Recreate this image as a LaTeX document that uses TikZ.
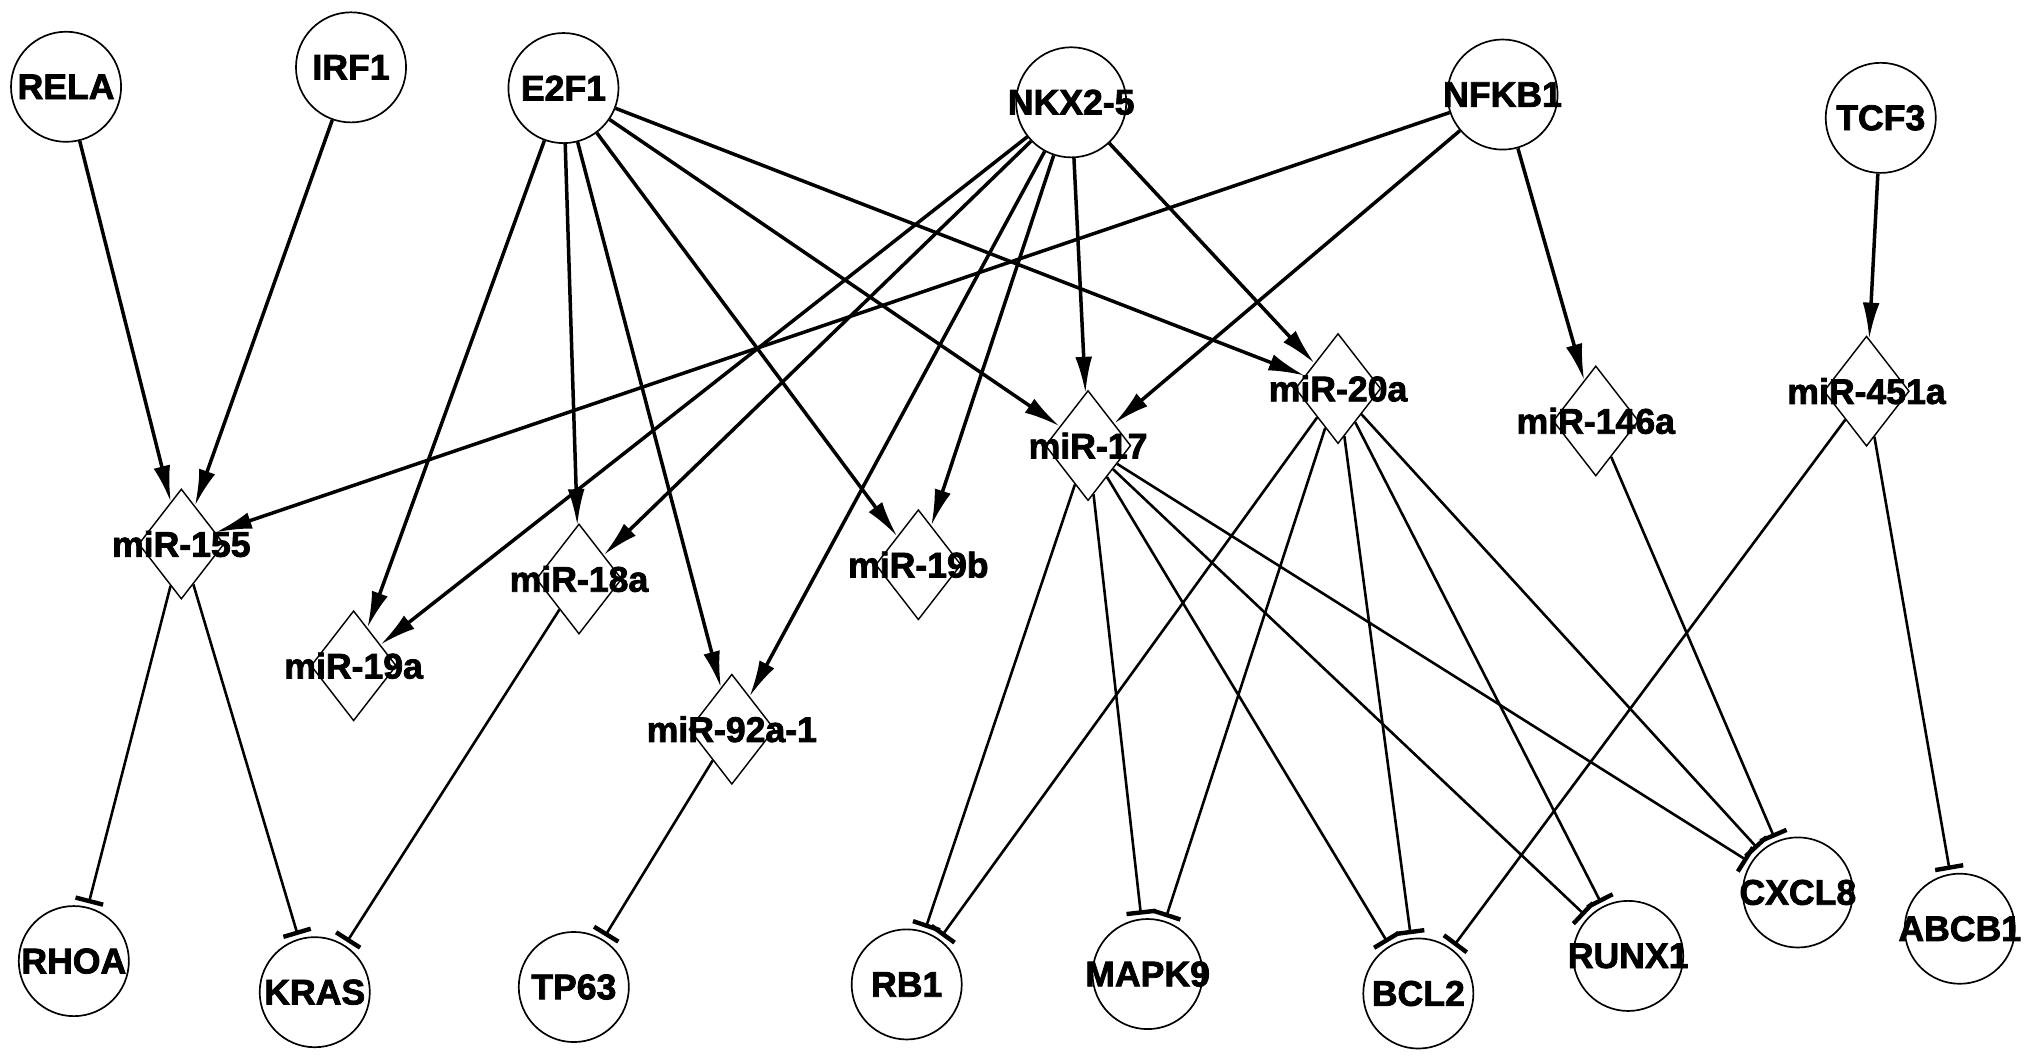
\documentclass[tikz,border=0pt]{standalone}
\usepackage{fontspec}
\setmainfont{Liberation Sans}
\newfontfamily\labfont[BoldFeatures={FakeBold=2.2}]{Liberation Sans}
\usetikzlibrary{arrows.meta,shapes.geometric}
\begin{document}
\begin{tikzpicture}[x=1pt,y=-1pt,
 gene/.style={circle,draw,line width=1.3pt,minimum size=85pt,inner sep=0pt},
 mir/.style={diamond,draw,line width=1.1pt,minimum width=66pt,minimum height=85pt,inner sep=0pt},
 lab/.style={font=\labfont\fontsize{27.5}{29}\selectfont\bfseries,inner sep=0pt},
 act/.style={line width=2.7pt,-{Latex[length=28pt,width=13pt]}},
 inh/.style={line width=2pt,-{Bar[width=22pt,line width=3.4pt]},shorten >=3pt}]
\useasboundingbox (0,0) rectangle (1568,818);
% transcription factors
\node[gene] (rela) at (51,67) {};   \node[lab] (relat) at (rela) {RELA};
\node[gene] (irf1) at (271,52) {};  \node[lab] (irf1t) at (irf1) {IRF1};
\node[gene] (e2f1) at (435,68) {};  \node[lab] (e2f1t) at (e2f1) {E2F1};
\node[gene] (nkx) at (827,79) {};   \node[lab] (nkxt) at (nkx) {NKX2-5};
\node[gene] (nfkb1) at (1160,73) {};\node[lab] (nfkb1t) at (nfkb1) {NFKB1};
\node[gene] (tcf3) at (1452,91) {}; \node[lab] (tcf3t) at (tcf3) {TCF3};
% miRNAs
\node[mir] (m155) at (140,420) {};  \node[lab] (m155t) at (m155) {miR-155};
\node[mir] (m18a) at (447,447) {};  \node[lab] (m18at) at (m18a) {miR-18a};
\node[mir] (m19a) at (273,514) {};  \node[lab] (m19at) at (m19a) {miR-19a};
\node[mir] (m92) at (565,563) {};   \node[lab] (m92t) at (m92) {miR-92a-1};
\node[mir] (m19b) at (709,436) {};  \node[lab] (m19bt) at (m19b) {miR-19b};
\node[mir] (m17) at (840,344) {};   \node[lab] (m17t) at (m17) {miR-17};
\node[mir] (m20a) at (1033,300) {}; \node[lab] (m20at) at (m20a) {miR-20a};
\node[mir] (m146) at (1232,325) {}; \node[lab] (m146t) at (m146) {miR-146a};
\node[mir] (m451) at (1441,302) {}; \node[lab] (m451t) at (m451) {miR-451a};
% targets
\node[gene] (rhoa) at (57,742) {};   \node[lab] (rhoat) at (rhoa) {RHOA};
\node[gene] (kras) at (243,766) {};  \node[lab] (krast) at (kras) {KRAS};
\node[gene] (tp63) at (443,762) {};  \node[lab] (tp63t) at (tp63) {TP63};
\node[gene] (rb1) at (700,760) {};   \node[lab] (rb1t) at (rb1) {RB1};
\node[gene] (mapk9) at (886,752) {}; \node[lab] (mapk9t) at (mapk9) {MAPK9};
\node[gene] (bcl2) at (1095,767) {}; \node[lab] (bcl2t) at (bcl2) {BCL2};
\node[gene] (runx1) at (1257,738) {};\node[lab] (runx1t) at (runx1) {RUNX1};
\node[gene] (cxcl8) at (1388,689) {};\node[lab] (cxcl8t) at (cxcl8) {CXCL8};
\node[gene] (abcb1) at (1513,717) {};\node[lab] (abcb1t) at (abcb1) {ABCB1};
% activations
\draw[act] (rela) -- (m155);
\draw[act] (irf1) -- (m155);
\draw[act] (nfkb1) -- (m155);
\draw[act] (nfkb1) -- (m17);
\draw[act] (nfkb1) -- (m146);
\draw[act] (tcf3) -- (m451);
\draw[act] (e2f1) -- (m19a);
\draw[act] (e2f1) -- (m18a);
\draw[act] (e2f1) -- (m92);
\draw[act] (e2f1) -- (m19b);
\draw[act] (e2f1) -- (m17);
\draw[act] (e2f1) -- (m20a);
\draw[act] (nkx) -- (m19a);
\draw[act] (nkx) -- (m18a);
\draw[act] (nkx) -- (m92);
\draw[act] (nkx) -- (m19b);
\draw[act] (nkx) -- (m17);
\draw[act] (nkx) -- (m20a);
% inhibitions
\draw[inh] (m155) -- (rhoa);
\draw[inh] (m155) -- (kras);
\draw[inh] (m18a) -- (kras);
\draw[inh] (m92) -- (tp63);
\draw[inh] (m17) -- (rb1);
\draw[inh] (m17) -- (mapk9);
\draw[inh] (m17) -- (bcl2);
\draw[inh] (m17) -- (runx1);
\draw[inh] (m17) -- (cxcl8);
\draw[inh] (m20a) -- (rb1);
\draw[inh] (m20a) -- (mapk9);
\draw[inh] (m20a) -- (bcl2);
\draw[inh] (m20a) -- (runx1);
\draw[inh] (m20a) -- (cxcl8);
\draw[inh] (m146) -- (cxcl8);
\draw[inh] (m451) -- (bcl2);
\draw[inh] (m451) -- (abcb1);
\end{tikzpicture}
\end{document}
